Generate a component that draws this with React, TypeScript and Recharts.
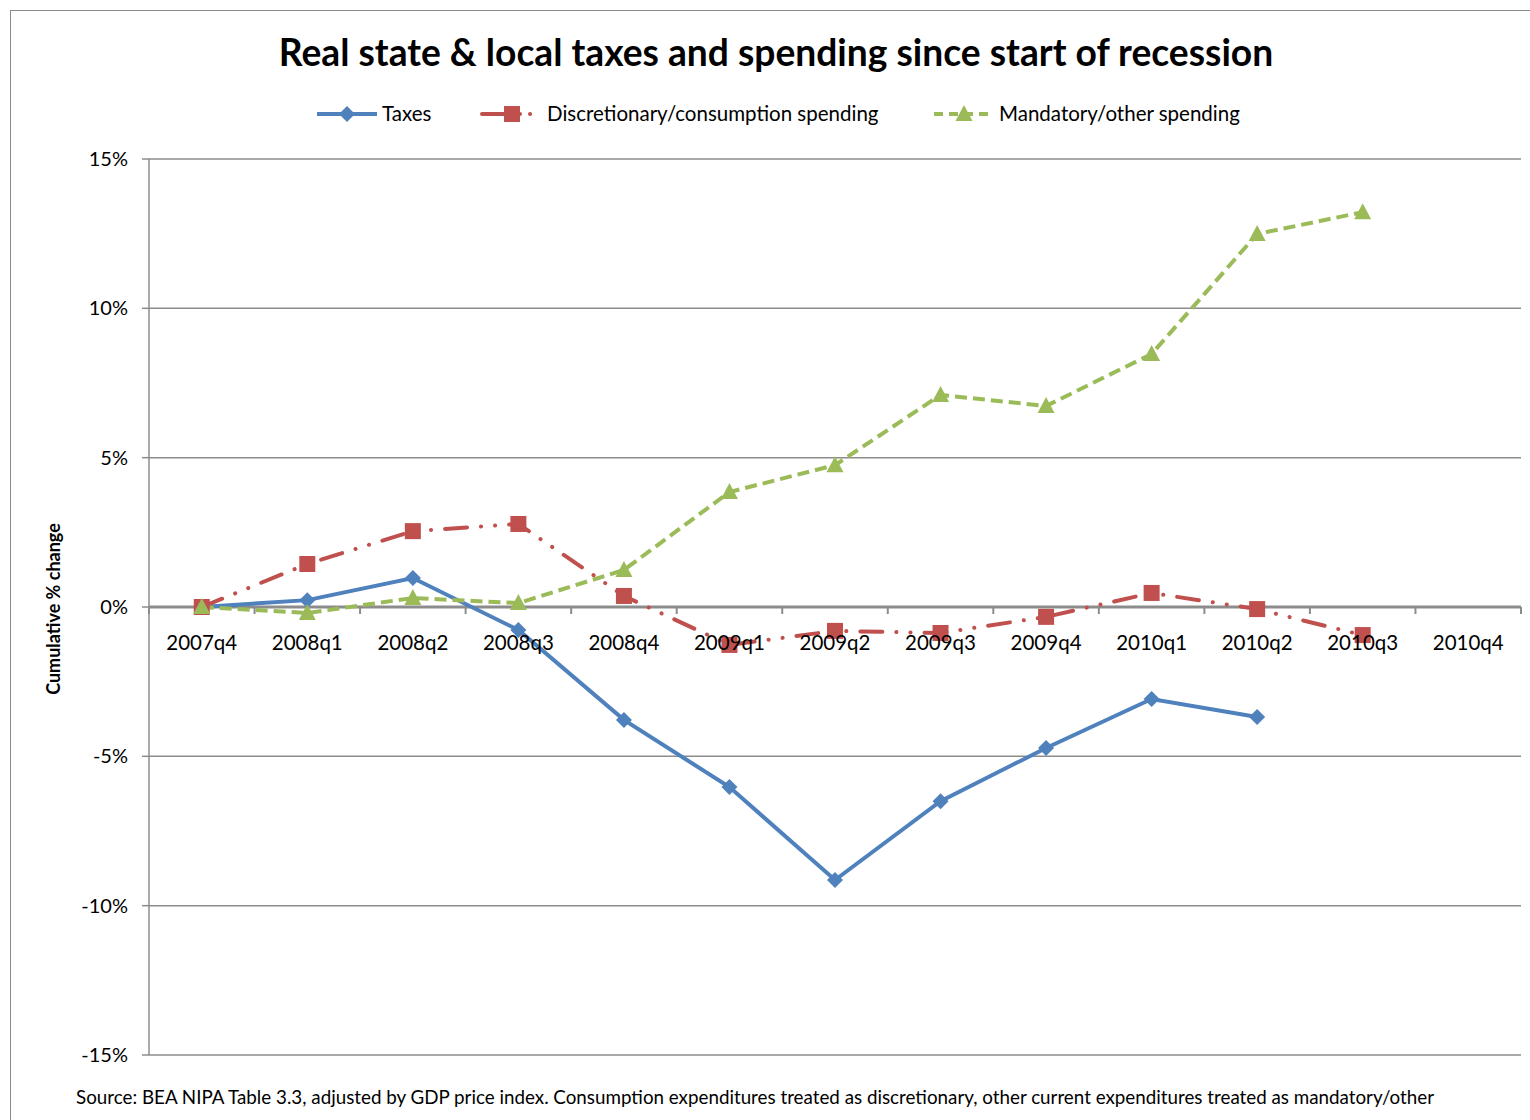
import { CartesianGrid, Line, LineChart, ReferenceLine, XAxis, YAxis } from "recharts";

const quarters = [
  "2007q4", "2008q1", "2008q2", "2008q3", "2008q4", "2009q1", "2009q2",
  "2009q3", "2009q4", "2010q1", "2010q2", "2010q3", "2010q4",
];
const taxes = [0, 0.23, 0.97, -0.77, -3.78, -6.03, -9.14, -6.5, -4.72, -3.08, -3.68, null, null];
const discretionary = [0, 1.44, 2.54, 2.78, 0.37, -1.27, -0.8, -0.87, -0.33, 0.47, -0.07, -0.94, null];
const mandatory = [0, -0.2, 0.3, 0.13, 1.24, 3.85, 4.75, 7.1, 6.73, 8.47, 12.49, 13.22, null];
const yTicks = [-15, -10, -5, 0, 5, 10, 15];

const FONT = "Lato, 'Open Sans', sans-serif";
const BLUE = "#4F81BD";
const RED = "#C0504D";
const GREEN = "#9BBB59";
const GRID = "#8c8c8c";

// chart geometry (chart coords)
const CHART_W = 1520;
const CHART_H = 1110;
const PLOT_LEFT = 138;
const PLOT_RIGHT = 1510;
const PLOT_TOP = 148;
const PLOT_BOTTOM = 1044;
const ZERO_Y = PLOT_TOP + (PLOT_BOTTOM - PLOT_TOP) / 2;
const BAND = (PLOT_RIGHT - PLOT_LEFT) / quarters.length;

const data = quarters.map((q, i) => ({
  q,
  taxes: taxes[i],
  discretionary: discretionary[i],
  mandatory: mandatory[i],
}));

function Diamond({ cx, cy, value }: any) {
  if (value == null || cx == null || cy == null) return null;
  const r = 8;
  return <path d={`M${cx},${cy - r}L${cx + r},${cy}L${cx},${cy + r}L${cx - r},${cy}Z`} fill={BLUE} />;
}

function Square({ cx, cy, value }: any) {
  if (value == null || cx == null || cy == null) return null;
  return <rect x={cx - 8} y={cy - 8} width={16} height={16} fill={RED} />;
}

function Triangle({ cx, cy, value }: any) {
  if (value == null || cx == null || cy == null) return null;
  return <path d={`M${cx},${cy - 9}L${cx + 8.5},${cy + 7}L${cx - 8.5},${cy + 7}Z`} fill={GREEN} />;
}

function QuarterTick({ x, payload, index }: any) {
  const right = PLOT_LEFT + (index + 1) * BAND;
  return (
    <g>
      {index === 0 && <line x1={PLOT_LEFT} x2={PLOT_LEFT} y1={ZERO_Y} y2={ZERO_Y + 7} stroke={GRID} strokeWidth={2} />}
      <line x1={right} x2={right} y1={ZERO_Y} y2={ZERO_Y + 7} stroke={GRID} strokeWidth={2} />
      <text x={x} y={ZERO_Y + 43} textAnchor="middle" fontFamily={FONT} fontSize={20.5} fill="#000">
        {payload.value}
      </text>
    </g>
  );
}

const legendItems = [
  { label: "Taxes", color: BLUE, dash: undefined, marker: "diamond", x: 306 },
  { label: "Discretionary/consumption spending", color: RED, dash: "38 10 0.1 20", marker: "square", x: 471 },
  { label: "Mandatory/other spending", color: GREEN, dash: "9 6", marker: "triangle", x: 923 },
];

function ChartLegend() {
  return (
    <svg width={CHART_W} height={30} style={{ position: "absolute", left: 0, top: 88 }}>
      {legendItems.map((it) => (
        <g key={it.label}>
          <line
            x1={it.x}
            x2={it.x + 60}
            y1={15}
            y2={15}
            stroke={it.color}
            strokeWidth={4}
            strokeDasharray={it.dash}
            strokeLinecap={it.marker === "square" ? "round" : "butt"}
          />
          {it.marker === "diamond" && <Diamond cx={it.x + 30} cy={15} value={1} />}
          {it.marker === "square" && <Square cx={it.x + 30} cy={15} value={1} />}
          {it.marker === "triangle" && <Triangle cx={it.x + 30} cy={15} value={1} />}
          <text x={it.x + 65} y={22} fontFamily={FONT} fontSize={20.5} fill="#000">
            {it.label}
          </text>
        </g>
      ))}
    </svg>
  );
}

export default function App() {
  return (
    <div
      style={{
        position: "absolute",
        left: 10,
        top: 10,
        width: CHART_W,
        height: CHART_H,
        borderTop: "1.5px solid #8a8a8a",
        borderLeft: "1.5px solid #8a8a8a",
        background: "#fff",
        fontFamily: FONT,
      }}
    >
      <div
        style={{
          position: "absolute",
          left: 5,
          width: CHART_W,
          top: 18,
          textAlign: "center",
          fontSize: 37.2,
          fontWeight: 700,
          color: "#000",
          whiteSpace: "nowrap",
        }}
      >
        Real state &amp; local taxes and spending since start of recession
      </div>
      <ChartLegend />
      <div
        style={{
          position: "absolute",
          left: 42,
          top: 598,
          transform: "translate(-50%, -50%) rotate(-90deg)",
          fontSize: 18,
          fontWeight: 700,
          whiteSpace: "nowrap",
        }}
      >
        Cumulative % change
      </div>
      <div style={{ position: "absolute", left: 65, top: 1074, fontSize: 18.8, whiteSpace: "nowrap" }}>
        Source: BEA NIPA Table 3.3, adjusted by GDP price index. Consumption expenditures treated as discretionary, other
        current expenditures treated as mandatory/other
      </div>
      <LineChart
        width={CHART_W}
        height={CHART_H}
        data={data}
        margin={{ top: PLOT_TOP, right: CHART_W - PLOT_RIGHT, left: 0, bottom: CHART_H - PLOT_BOTTOM - 30 }}
        style={{ position: "absolute", left: 0, top: 0 }}
      >
        <CartesianGrid vertical={false} stroke={GRID} strokeWidth={1.5} />
        <XAxis
          dataKey="q"
          scale="band"
          height={30}
          axisLine={false}
          tickLine={false}
          interval={0}
          tick={<QuarterTick />}
        />
        <YAxis
          width={PLOT_LEFT}
          domain={[-15, 15]}
          ticks={yTicks}
          tickFormatter={(v) => `${v}%`}
          tick={{ fontSize: 20, fill: "#000", fontFamily: FONT }}
          tickSize={7}
          tickMargin={14}
          stroke={GRID}
          strokeWidth={1.5}
        />
        <ReferenceLine y={0} stroke={GRID} strokeWidth={3} />
        <Line
          dataKey="taxes"
          type="linear"
          stroke={BLUE}
          strokeWidth={4}
          dot={<Diamond />}
          activeDot={false}
          isAnimationActive={false}
        />
        <Line
          dataKey="discretionary"
          type="linear"
          stroke={RED}
          strokeWidth={4}
          strokeDasharray="22 14 0.1 14 0.1 14"
          strokeLinecap="round"
          dot={<Square />}
          activeDot={false}
          isAnimationActive={false}
        />
        <Line
          dataKey="mandatory"
          type="linear"
          stroke={GREEN}
          strokeWidth={4}
          strokeDasharray="12 6"
          dot={<Triangle />}
          activeDot={false}
          isAnimationActive={false}
        />
      </LineChart>
    </div>
  );
}
